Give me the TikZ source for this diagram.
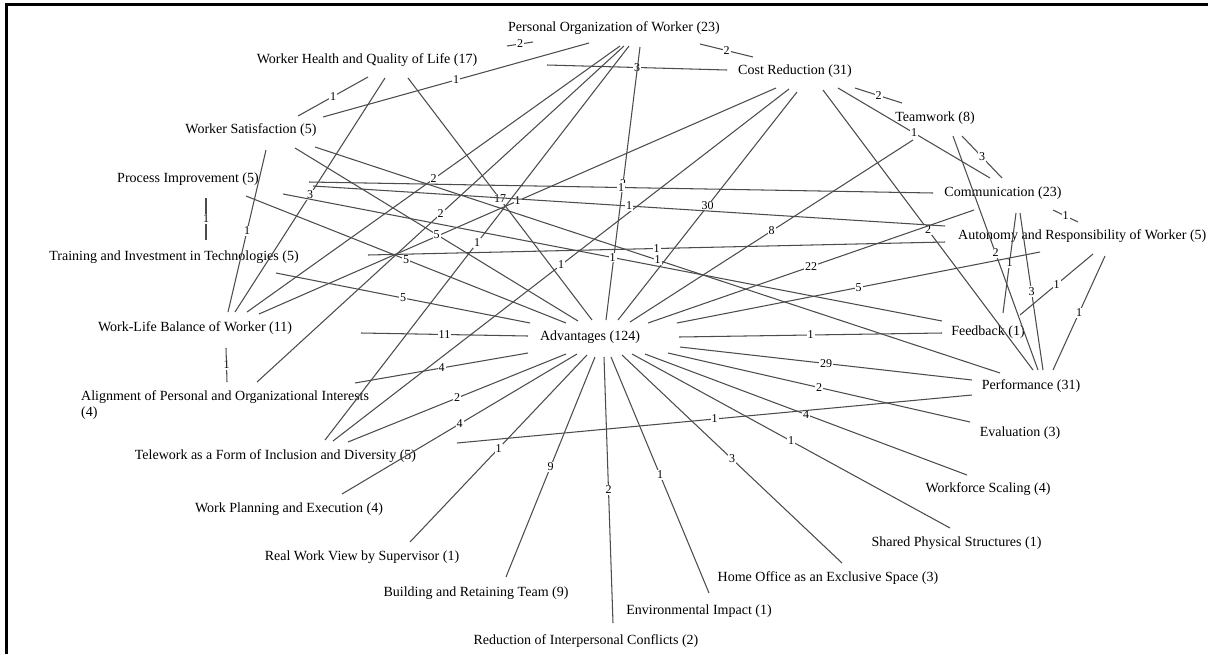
\documentclass[tikz,border=0pt]{standalone}
\usepackage{fontspec}
\setmainfont{Liberation Serif}
\newcommand{\lnk}[7]{\draw[edge] ([shift={(#2,#3)}]#1) -- ([shift={(#5,#6)}]#4) node[lbl]{#7};}
\begin{document}
\begin{tikzpicture}[x=1pt,y=-1pt,
  nd/.style={font=\fontsize{14}{15.5}\selectfont, inner sep=0pt},
  edge/.style={draw=black!70, line width=1.05pt},
  lbl/.style={midway, font=\fontsize{12}{13}\selectfont, fill=white, inner sep=1pt},
  frame/.style={line width=2.6pt, draw=black}]
\useasboundingbox (0,0) rectangle (1208,654);
\fill[white] (0,0) rectangle (1208,654);
\draw[frame] (6.2,654) -- (6.2,4.7) -- (1208,4.7);
% nodes
\node[nd] (pers) at (614,28) {Personal Organization of Worker (23)};
\node[nd] (whql) at (367,60) {Worker Health and Quality of Life (17)};
\node[nd] (cost) at (795,71) {Cost Reduction (31)};
\node[nd] (team) at (935,118) {Teamwork (8)};
\node[nd] (wsat) at (251,130) {Worker Satisfaction (5)};
\node[nd] (proc) at (188,179) {Process Improvement (5)};
\node[nd] (comm) at (1003,193) {Communication (23)};
\node[nd, anchor=west] (auto) at (958,236) {Autonomy and Responsibility of Worker (5)};
\node[nd] (trai) at (174,257) {Training and Investment in Technologies (5)};
\node[nd] (feed) at (988,332) {Feedback (1)};
\node[nd] (wlb) at (195,328) {Work-Life Balance of Worker (11)};
\node[nd] (adv) at (590,337) {Advantages (124)};
\node[nd] (perf) at (1031,386) {Performance (31)};
\node[nd, anchor=west, align=left] (align) at (81,405) {Alignment of Personal and Organizational Interests\\(4)};
\node[nd] (eval) at (1020,433) {Evaluation (3)};
\node[nd] (tele) at (275.5,456) {Telework as a Form of Inclusion and Diversity (5)};
\node[nd] (wfs) at (988,489) {Workforce Scaling (4)};
\node[nd] (wpe) at (289,509) {Work Planning and Execution (4)};
\node[nd] (shps) at (956.5,543) {Shared Physical Structures (1)};
\node[nd] (rwv) at (362,557) {Real Work View by Supervisor (1)};
\node[nd] (home) at (828,578) {Home Office as an Exclusive Space (3)};
\node[nd] (brt) at (476,593) {Building and Retaining Team (9)};
\node[nd] (env) at (699,611) {Environmental Impact (1)};
\node[nd] (rinc) at (586,641) {Reduction of Interpersonal Conflicts (2)};
% edges
\lnk{whql.center}{140}{-14}{pers.center}{-81}{14}{2}
\lnk{pers.center}{86}{16}{cost.center}{-42}{-14}{2}
\lnk{cost.center}{60}{17}{team.center}{-33}{-15}{2}
\lnk{team.center}{27}{18}{comm.center}{-1}{-15}{3}
\lnk{comm.center}{50}{17}{auto.west}{120}{-14}{1}
\lnk{proc.center}{18}{19}{trai.center}{32}{-17}{1}
\lnk{wlb.center}{31}{20}{align.west}{146}{-23}{1}
\lnk{whql.center}{1}{17}{wsat.center}{47}{-14}{1}
\lnk{wsat.center}{72}{-13}{pers.center}{-25}{15}{1}
\lnk{whql.center}{18}{18}{wlb.center}{40}{-16}{3}
\lnk{whql.center}{41}{18}{adv.center}{2}{-17}{17}
\lnk{whql.center}{180}{5}{cost.center}{-68}{-1}{3}
\lnk{wsat.center}{15}{20}{wlb.center}{33}{-16}{1}
\lnk{pers.center}{6}{18}{wlb.center}{52}{-16}{2}
\lnk{pers.center}{10}{18}{align.west}{176}{-23}{2}
\lnk{pers.center}{15}{18}{tele.center}{49.5}{-16}{1}
\lnk{pers.center}{26}{19}{adv.center}{16}{-17}{2}
\lnk{cost.center}{-19}{17}{wlb.center}{64}{-14}{1}
\lnk{cost.center}{-6}{18}{tele.center}{57.5}{-15}{1}
\lnk{cost.center}{2}{21}{adv.center}{28}{-17}{30}
\lnk{cost.center}{43}{17}{comm.center}{-13}{-15}{1}
\lnk{cost.center}{28}{19}{perf.center}{2}{-16}{2}
\lnk{team.center}{-22}{22}{adv.center}{40}{-15}{8}
\lnk{team.center}{18}{18}{perf.center}{7}{-16}{2}
\lnk{comm.center}{-29}{17}{adv.center}{58}{-14}{22}
\lnk{comm.center}{17}{20}{perf.center}{12}{-16}{3}
\lnk{comm.center}{13}{20}{feed.center}{15}{-19}{1}
\lnk{proc.center}{121}{3}{comm.center}{-70}{0}{1}
\lnk{proc.center}{125}{7}{auto.west}{-13}{-10}{1}
\lnk{proc.center}{95}{15}{feed.center}{-46}{-11}{1}
\lnk{proc.center}{58}{17}{adv.center}{-24}{-14}{5}
\lnk{wsat.center}{44}{18}{adv.center}{-12}{-16}{5}
\lnk{wsat.center}{64}{17}{perf.center}{-31}{-13}{1}
\lnk{trai.center}{194}{-2}{auto.west}{-13}{6}{1}
\lnk{trai.center}{102}{16}{adv.center}{-60}{-14}{5}
\lnk{auto.west}{82}{16}{adv.center}{87}{-14}{5}
\lnk{auto.west}{135}{18}{feed.center}{32}{-17}{1}
\lnk{auto.west}{147}{20}{perf.center}{22}{-16}{1}
\lnk{adv.center}{89}{0}{feed.center}{-46}{1}{1}
\lnk{adv.center}{90}{10}{perf.center}{-59}{-6}{29}
\lnk{adv.center}{78}{16}{eval.center}{-50}{-11}{2}
\lnk{adv.center}{55}{17}{wfs.center}{-21}{-14}{4}
\lnk{adv.center}{42}{17}{shps.center}{-6.5}{-15}{1}
\lnk{adv.center}{32}{18}{home.center}{14}{-15}{3}
\lnk{adv.center}{21}{20}{env.center}{10}{-18}{1}
\lnk{adv.center}{14}{20}{rinc.center}{27}{-18}{2}
\lnk{adv.center}{5}{20}{brt.center}{30}{-16}{9}
\lnk{adv.center}{-3}{18}{rwv.center}{48}{-15}{1}
\lnk{adv.center}{-13}{17}{wpe.center}{53}{-15}{4}
\lnk{adv.center}{-24}{17}{tele.center}{72.5}{-14}{2}
\lnk{adv.center}{-62}{16}{align.west}{274}{-22}{4}
\lnk{adv.center}{-62}{-1}{wlb.center}{166}{5}{11}
\lnk{perf.center}{-59}{9}{tele.center}{181.5}{-13}{1}
\end{tikzpicture}
\end{document}
